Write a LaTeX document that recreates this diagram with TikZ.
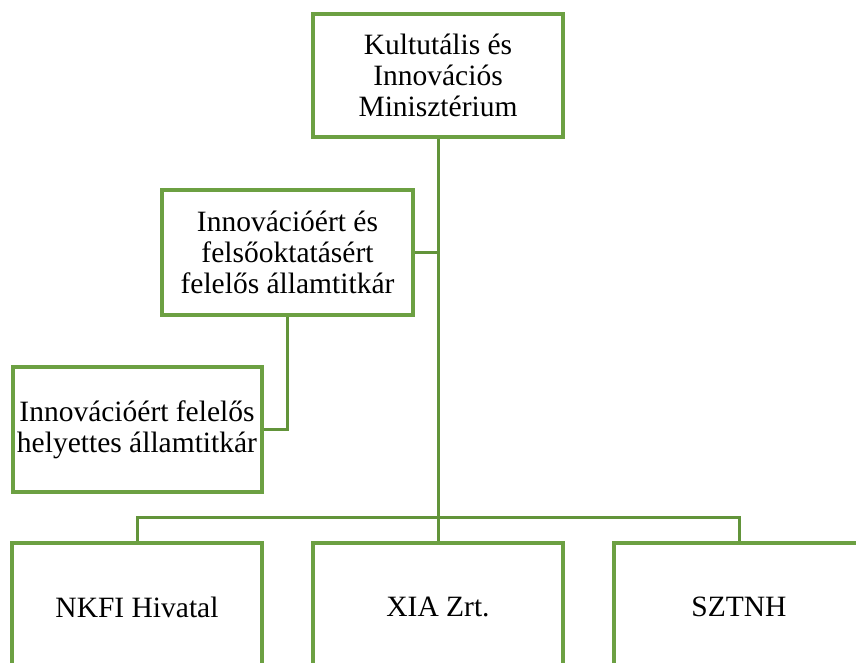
\documentclass[tikz,border=0pt]{standalone}
\usepackage{fontspec}
\setmainfont{Liberation Serif}
\newfontfamily\tnr{Liberation Serif}
\definecolor{boxgreen}{RGB}{108,160,66}
\definecolor{linkgreen}{RGB}{98,148,58}
\begin{document}
\begin{tikzpicture}[x=1pt,y=-1pt,
  orgbox/.style={draw=boxgreen, line width=4pt, fill=white, minimum width=250pt,
    minimum height=124pt, inner sep=0pt, align=center,
    font=\tnr\fontsize{29.5}{31}\selectfont},
  link/.style={draw=linkgreen, line width=3pt}]
\useasboundingbox (0,0) rectangle (856,663);
\clip (0,0) rectangle (856,663);
\node[orgbox, minimum height=123pt] (top) at (438,75.5) {Kultutális és\\Innovációs\\Minisztérium};
\node[orgbox, minimum width=251pt, minimum height=125pt] (mid) at (287.5,252.5) {Innovációért és\\felsőoktatásért\\felelős államtitkár};
\node[orgbox, minimum width=249pt, minimum height=125pt] (left) at (137,429.5) {Innovációért felelős\\helyettes államtitkár};
\node[orgbox, minimum height=128pt] (b1) at (137,607) {NKFI Hivatal};
\node[orgbox, minimum height=128pt] (b2) at (438,607) {XIA Zrt.};
\node[orgbox, minimum height=128pt] (b3) at (739,607) {SZTNH};
\coordinate (bus) at (438,517);
\draw[link] (top.south) -- (b2.north);
\draw[link] (b1.north) |- (bus) -| (b3.north);
\draw[link] (mid.east) -- (mid.east -| top.south);
\draw[link] (mid.south) |- (left.east);
\end{tikzpicture}
\end{document}
